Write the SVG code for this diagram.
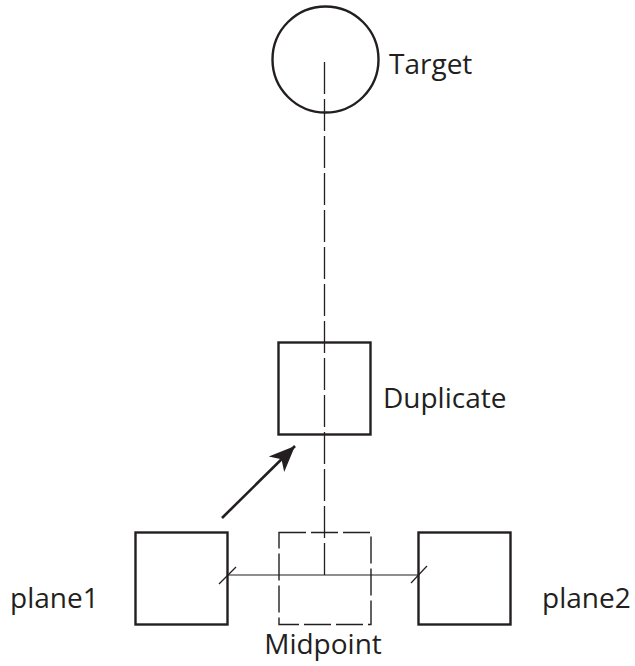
<svg xmlns="http://www.w3.org/2000/svg" width="635" height="666" viewBox="0 0 635 666">
<style>
.shape{fill:none;stroke:#231f20;stroke-width:2.4}
.ghost{fill:none;stroke:#231f20;stroke-width:1.4;stroke-dasharray:27 5}
.thin{fill:none;stroke:#231f20;stroke-width:1.2}
.center{fill:none;stroke:#231f20;stroke-width:1.3;stroke-dasharray:32 5}
.lbl{font-family:"Open Sans","Noto Sans",sans-serif;font-size:28px;fill:#231f20}
</style>
<defs>
<marker id="ah" markerUnits="userSpaceOnUse" markerWidth="30" markerHeight="30" refX="0" refY="0" viewBox="-26 -13 30 26" orient="auto">
<path d="M0,0 L-26,-11 L-19,0 L-26,11 Z" fill="#231f20"/>
</marker>
</defs>
<rect width="635" height="666" fill="#fff"/>
<g id="connectors">
<line class="center" x1="324.5" y1="62" x2="324.5" y2="575"/>
<line class="thin" x1="228" y1="575" x2="418" y2="575"/>
<line class="thin" x1="219" y1="584" x2="236" y2="567"/>
<line class="thin" x1="411" y1="583" x2="427" y2="566"/>
<line x1="222" y1="518" x2="295" y2="446" stroke="#231f20" stroke-width="2.6" marker-end="url(#ah)"/>
</g>
<g id="target">
<circle class="shape" cx="325.5" cy="59.5" r="53" stroke-width="2"/>
<text class="lbl" x="389" y="74">Target</text>
</g>
<g id="duplicate">
<rect class="shape" x="278.5" y="342.5" width="92" height="92"/>
<text class="lbl" x="383" y="408">Duplicate</text>
</g>
<g id="plane1">
<rect class="shape" x="135.5" y="532.5" width="92" height="92"/>
<text class="lbl" x="10" y="608">plane1</text>
</g>
<g id="plane2">
<rect class="shape" x="418.5" y="532.5" width="92" height="92"/>
<text class="lbl" x="542" y="608">plane2</text>
</g>
<g id="midpoint">
<rect class="ghost" x="279" y="532.5" width="92" height="92"/>
<text class="lbl" x="323" y="654" text-anchor="middle">Midpoint</text>
</g>
</svg>
